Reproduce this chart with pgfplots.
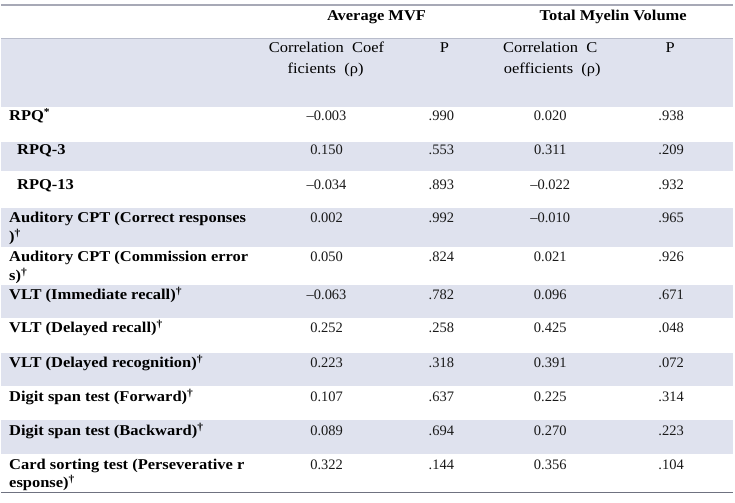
\documentclass[border=0pt]{standalone}
\usepackage{fontspec}
\setmainfont[FakeStretch=1.1]{Liberation Serif}
\newfontfamily\numfont{Liberation Serif}
\usepackage{pgfplots}
\usepackage{pgfplotstable}
\pgfplotsset{compat=1.18}
\definecolor{band}{HTML}{DFE2EE}
\definecolor{toprule}{HTML}{A7A9B6}
\definecolor{botrule}{HTML}{6F7280}
\definecolor{midrule}{HTML}{B8BCCB}

\pgfplotstableread{
y   r1     p1   r2     p2
116 –0.003 .990 0.020  .938
150 0.150  .553 0.311  .209
185 –0.034 .893 –0.022 .932
218 0.002  .992 –0.010 .965
257 0.050  .824 0.021  .926
295 –0.063 .782 0.096  .671
328 0.252  .258 0.425  .048
363 0.223  .318 0.391  .072
397 0.107  .637 0.225  .314
431 0.089  .694 0.270  .223
465 0.322  .144 0.356  .104
}\vals

\begin{document}
\begin{tikzpicture}[font=\fontsize{15bp}{19bp}\selectfont]
\begin{axis}[
  width=735bp, height=503bp, scale only axis,
  xmin=0, xmax=735, ymin=0, ymax=503, y dir=reverse,
  hide axis, clip=false,
  nodes near coords, point meta=explicit symbolic,
  nodes near coords style={anchor=center, font=\numfont\fontsize{14.5bp}{19bp}\selectfont, text=black!90},
  cellvals/.style={only marks, mark=text, text mark={}},
]
% bounding box
\path[draw=none] (axis cs:0,0) rectangle (axis cs:735,503);
% bands
\fill[band] (axis cs:0,38) rectangle (axis cs:733,107);
\fill[band] (axis cs:0,142) rectangle (axis cs:733,171);
\fill[band] (axis cs:0,208) rectangle (axis cs:733,247);
\fill[band] (axis cs:0,285) rectangle (axis cs:733,318);
\fill[band] (axis cs:0,353) rectangle (axis cs:733,387);
\fill[band] (axis cs:0,421) rectangle (axis cs:733,455);
% rules
\draw[toprule, line width=2bp] (axis cs:0,5) -- (axis cs:733,5);
\draw[midrule, line width=0.8bp] (axis cs:0,38) -- (axis cs:733,38);
\draw[botrule, line width=1.5bp] (axis cs:0,493) -- (axis cs:733,493);

% data
\addplot[cellvals] table[x expr=326, y=y, meta=r1] {\vals};
\addplot[cellvals] table[x expr=441, y=y, meta=p1] {\vals};
\addplot[cellvals] table[x expr=550, y=y, meta=r2] {\vals};
\addplot[cellvals] table[x expr=671, y=y, meta=p2] {\vals};

% headers
\node[anchor=base] at (axis cs:376,21) {\textbf{Average MVF}};
\node[anchor=base] at (axis cs:613,21) {\textbf{Total Myelin Volume}};
\node[anchor=base] at (axis cs:326,53) {Correlation\ \ Coef};
\node[anchor=base] at (axis cs:325,74) {ficients\ \ (ρ)};
\node[anchor=base] at (axis cs:444,53) {P};
\node[anchor=base] at (axis cs:550,53) {Correlation\ \ C};
\node[anchor=base] at (axis cs:552,74) {oefficients\ \ (ρ)};
\node[anchor=base] at (axis cs:670,53) {P};

% row labels
\tikzset{lab/.style={anchor=base west, inner sep=0pt, font=\fontsize{15bp}{19bp}\selectfont\bfseries}}
\node[lab] at (axis cs:8,121) {RPQ\textsuperscript{*}};
\node[lab] at (axis cs:16,155) {RPQ-3};
\node[lab] at (axis cs:16,190) {RPQ-13};
\node[lab] at (axis cs:8,223) {Auditory CPT (Correct responses};
\node[lab] at (axis cs:8,242) {)\textsuperscript{†}};
\node[lab] at (axis cs:8,262) {Auditory CPT (Commission error};
\node[lab] at (axis cs:8,281) {s)\textsuperscript{†}};
\node[lab] at (axis cs:8,300) {VLT (Immediate recall)\textsuperscript{†}};
\node[lab] at (axis cs:8,333) {VLT (Delayed recall)\textsuperscript{†}};
\node[lab] at (axis cs:8,368) {VLT (Delayed recognition)\textsuperscript{†}};
\node[lab] at (axis cs:8,402) {Digit span test (Forward)\textsuperscript{†}};
\node[lab] at (axis cs:8,436) {Digit span test (Backward)\textsuperscript{†}};
\node[lab] at (axis cs:8,470) {Card sorting test (Perseverative r};
\node[lab] at (axis cs:8,488) {esponse)\textsuperscript{†}};
\end{axis}
\end{tikzpicture}
\end{document}
